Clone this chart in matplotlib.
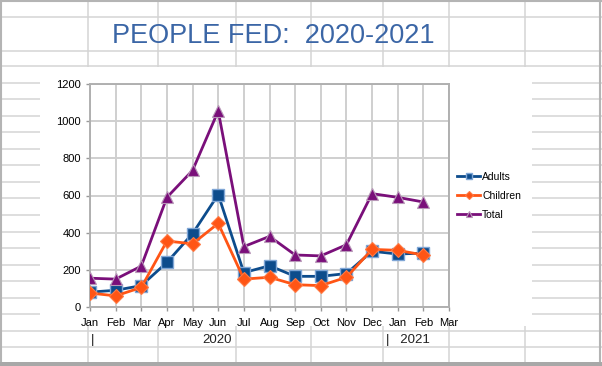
import numpy as np
import matplotlib
matplotlib.use("Agg")
import matplotlib.pyplot as plt
from matplotlib.patches import Rectangle

plt.rcParams['font.family'] = ['Liberation Sans', 'DejaVu Sans']

# Data
months = ["Jan", "Feb", "Mar", "Apr", "May", "Jun", "Jul", "Aug", "Sep",
          "Oct", "Nov", "Dec", "Jan", "Feb", "Mar"]
adults = [80, 90, 115, 240, 395, 605, 185, 222, 165, 165, 180, 300, 285, 290]
children = [75, 60, 105, 355, 340, 450, 150, 160, 120, 115, 160, 310, 305, 280]
total = [155, 150, 220, 590, 735, 1055, 325, 380, 280, 275, 335, 610, 590, 565]
yticks = [0, 200, 400, 600, 800, 1000, 1200]

W, H = 602, 366
fig = plt.figure(figsize=(W / 100, H / 100), dpi=100)

# spreadsheet background (pixel coords)
bg = fig.add_axes([0, 0, 1, 1])
bg.set_xlim(0, W)
bg.set_ylim(H, 0)
bg.axis("off")
cell = "#d4d4d4"
for y in [17, 50.7] + list(66 + 16.55 * np.arange(18)):
    bg.plot([0, W], [y, y], color=cell, lw=1.1)
for x in [88, 158, 236, 311, 383, 449, 525]:
    bg.plot([x, x], [0, H], color=cell, lw=1.1)
# chart object area
bg.add_patch(Rectangle((40, 66.5), 492, 259.5, facecolor="white", edgecolor="none", zorder=3))
# window border
bg.plot([0.5, 0.5], [0, H], color="#b4b4b4", lw=1.5, zorder=4)
bg.plot([0, W], [0.5, 0.5], color="#b4b4b4", lw=1.5, zorder=4)
bg.plot([599.5, 599.5], [0, H], color="#b4b4b4", lw=1.5, zorder=4)
bg.add_patch(Rectangle((0, 362), W, 4, facecolor="#a8a8a8", edgecolor="none", zorder=4))

# title and cell texts
bg.text(273, 36, "PEOPLE FED:  2020-2021", fontsize=19.5, color="#3b66a6",
        ha="center", va="center", zorder=5)
bg.text(91, 340, "|", fontsize=9.5, color="#222222", ha="left", va="center", zorder=5)
bg.text(232, 340, "2020", fontsize=9.5, color="#222222", ha="right", va="center", zorder=5)
bg.text(386, 340, "|   2021", fontsize=9.5, color="#222222", ha="left", va="center", zorder=5)

# chart
ax = fig.add_axes([90 / W, (H - 307) / H, (449 - 90) / W, (307 - 84) / H])
ax.set_facecolor("white")
x = np.arange(len(adults))
ax.plot(x, adults, color="#0d4c8c", lw=2, marker="s", markersize=8,
        markerfacecolor="#0d4c8c", markeredgecolor="#7fa6d6", markeredgewidth=1,
        label="Adults", zorder=3)
ax.plot(x, children, color="#ff5515", lw=2, marker="D", markersize=6.8,
        markerfacecolor="#ff5515", markeredgecolor="#ff7a45", markeredgewidth=0.8,
        label="Children", zorder=4)
ax.plot(x, total, color="#7a0f7a", lw=2, marker="^", markersize=8,
        markerfacecolor="#7a0f7a", markeredgecolor="#b897b8", markeredgewidth=0.8,
        label="Total", zorder=5)

ax.set_xlim(0, len(months) - 1)
ax.set_ylim(0, 1200)
ax.set_xticks(np.arange(len(months)))
ax.set_xticklabels(months)
ax.set_yticks(yticks)
ax.tick_params(axis="both", labelsize=8, colors="#999999", labelcolor="black",
               length=3, width=1)
ax.tick_params(axis="x", pad=5)
ax.grid(True, color="#cfcfcf", lw=1.4)
ax.set_axisbelow(True)
for s in ax.spines.values():
    s.set_color("#b0b0b0")
    s.set_linewidth(1.4)

leg = ax.legend(loc="center left", bbox_to_anchor=(453 / W, (H - 196) / H),
                bbox_transform=fig.transFigure, frameon=False, fontsize=7.5,
                markerscale=0.6, handlelength=2.2, handletextpad=0.2,
                labelspacing=0.85, borderaxespad=0)

fig.savefig("out.png", dpi=100)
